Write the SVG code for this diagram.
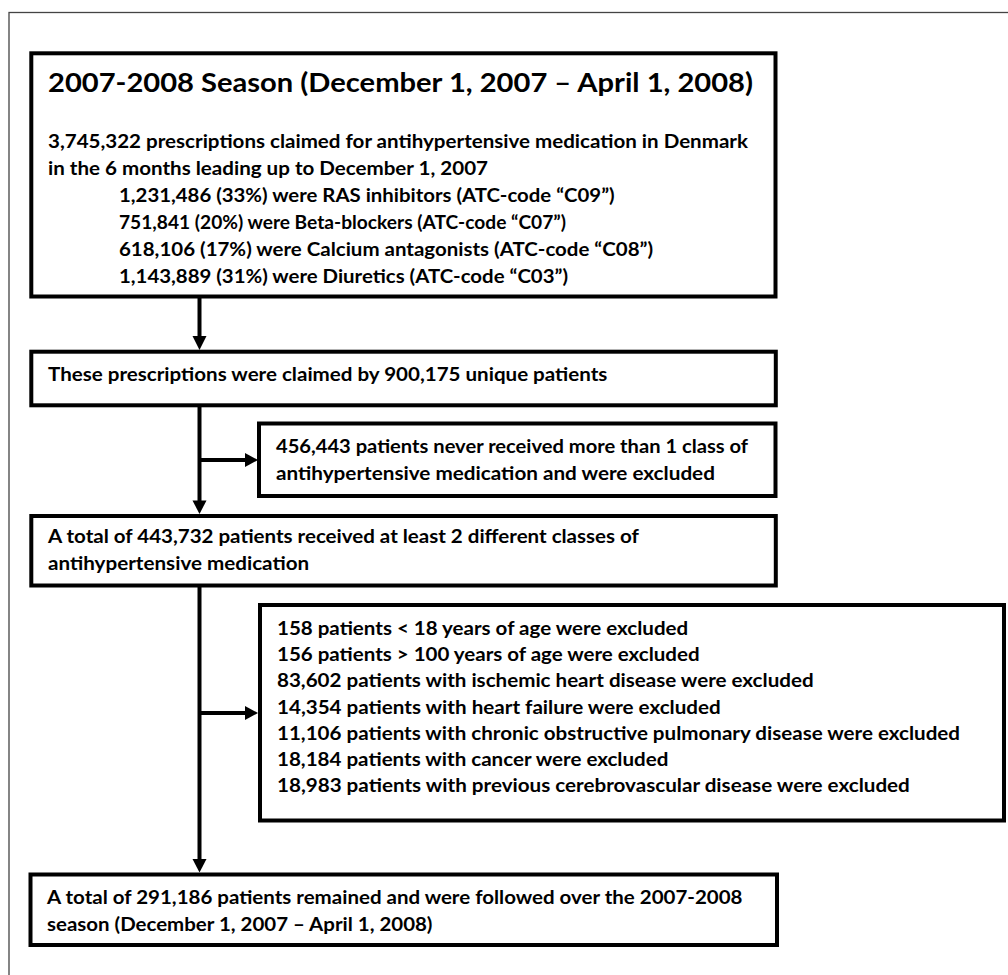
<svg xmlns="http://www.w3.org/2000/svg" width="1008" height="975" viewBox="0 0 1008 975">
<style>
.frame{fill:none;stroke:#444;stroke-width:1.3}
.box{fill:#fff;stroke:#000;stroke-width:4}
.t{font-family:Lato,"Liberation Sans",sans-serif;font-weight:700;font-size:18.5px;fill:#000}
.title{font-size:26.5px}
.ln{stroke:#000;stroke-width:4;fill:none}
.hd{fill:#000;stroke:none}
</style>
<rect width="1008" height="975" fill="#fff"/>
<rect class="frame" x="9" y="12.5" width="1100" height="1100"/>
<g id="connectors">
<line class="ln" x1="199.5" y1="298" x2="199.5" y2="337"/>
<path class="hd" d="M192.5,336 L206.5,336 L199.5,350 z"/>
<line class="ln" x1="199.5" y1="407" x2="199.5" y2="501"/>
<path class="hd" d="M192.5,500.5 L206.5,500.5 L199.5,514 z"/>
<line class="ln" x1="199.5" y1="460" x2="246" y2="460"/>
<path class="hd" d="M245,453 L245,467 L258,460 z"/>
<line class="ln" x1="199.5" y1="587" x2="199.5" y2="860"/>
<path class="hd" d="M192.5,859 L206.5,859 L199.5,872.5 z"/>
<line class="ln" x1="199.5" y1="713" x2="246" y2="713"/>
<path class="hd" d="M245,706 L245,720 L258,713 z"/>
</g>
<g id="season">
<rect class="box" x="31.3" y="53.3" width="744.2" height="243.2"/>
<text class="t title" x="48" y="92" textLength="705" lengthAdjust="spacingAndGlyphs">2007-2008 Season (December 1, 2007 – April 1, 2008)</text>
<text class="t" x="48" y="148.3" textLength="700" lengthAdjust="spacingAndGlyphs">3,745,322 prescriptions claimed for antihypertensive medication in Denmark</text>
<text class="t" x="48" y="175.2" textLength="440" lengthAdjust="spacingAndGlyphs">in the 6 months leading up to December 1, 2007</text>
<text class="t" x="119" y="202.2" textLength="495.6" lengthAdjust="spacingAndGlyphs">1,231,486 (33%) were RAS inhibitors (ATC-code “C09”)</text>
<text class="t" x="119" y="229.1" textLength="447" lengthAdjust="spacingAndGlyphs">751,841 (20%) were Beta-blockers (ATC-code “C07”)</text>
<text class="t" x="119" y="256.1" textLength="534.1" lengthAdjust="spacingAndGlyphs">618,106 (17%) were Calcium antagonists (ATC-code “C08”)</text>
<text class="t" x="119" y="283" textLength="449" lengthAdjust="spacingAndGlyphs">1,143,889 (31%) were Diuretics (ATC-code “C03”)</text>
</g>
<g id="unique">
<rect class="box" x="31.3" y="351.7" width="744.5" height="53.6"/>
<text class="t" x="48" y="381" textLength="559.4" lengthAdjust="spacingAndGlyphs">These prescriptions were claimed by 900,175 unique patients</text>
</g>
<g id="excl1">
<rect class="box" x="259" y="423.5" width="516.5" height="72.5"/>
<text class="t" x="276" y="452.7" textLength="472" lengthAdjust="spacingAndGlyphs">456,443 patients never received more than 1 class of</text>
<text class="t" x="276" y="479.5" textLength="438.9" lengthAdjust="spacingAndGlyphs">antihypertensive medication and were excluded</text>
</g>
<g id="twoclasses">
<rect class="box" x="31.3" y="516" width="744.5" height="69.5"/>
<text class="t" x="48" y="543" textLength="590.9" lengthAdjust="spacingAndGlyphs">A total of 443,732 patients received at least 2 different classes of</text>
<text class="t" x="48" y="570" textLength="261.2" lengthAdjust="spacingAndGlyphs">antihypertensive medication</text>
</g>
<g id="excl2">
<rect class="box" x="260" y="605" width="744" height="215.5"/>
<text class="t" x="277" y="635" textLength="411.2" lengthAdjust="spacingAndGlyphs">158 patients &lt; 18 years of age were excluded</text>
<text class="t" x="277" y="661.2" textLength="422.6" lengthAdjust="spacingAndGlyphs">156 patients &gt; 100 years of age were excluded</text>
<text class="t" x="277" y="687.4" textLength="536.6" lengthAdjust="spacingAndGlyphs">83,602 patients with ischemic heart disease were excluded</text>
<text class="t" x="277" y="713.6" textLength="443.7" lengthAdjust="spacingAndGlyphs">14,354 patients with heart failure were excluded</text>
<text class="t" x="277" y="739.8" textLength="683" lengthAdjust="spacingAndGlyphs">11,106 patients with chronic obstructive pulmonary disease were excluded</text>
<text class="t" x="277" y="766" textLength="391.4" lengthAdjust="spacingAndGlyphs">18,184 patients with cancer were excluded</text>
<text class="t" x="277" y="792.2" textLength="632.8" lengthAdjust="spacingAndGlyphs">18,983 patients with previous cerebrovascular disease were excluded</text>
</g>
<g id="remained">
<rect class="box" x="30.5" y="874.5" width="746.5" height="70.5"/>
<text class="t" x="47" y="904" textLength="695.5" lengthAdjust="spacingAndGlyphs">A total of 291,186 patients remained and were followed over the 2007-2008</text>
<text class="t" x="47" y="930.7" textLength="385.5" lengthAdjust="spacingAndGlyphs">season (December 1, 2007 – April 1, 2008)</text>
</g>
</svg>
